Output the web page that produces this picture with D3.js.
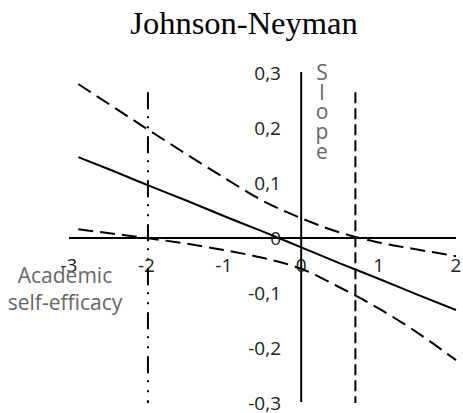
<!DOCTYPE html>
<html><head><meta charset="utf-8">
<script src="https://cdn.jsdelivr.net/npm/d3@7"></script>
<style>body{margin:0;background:#fff}svg{display:block}</style>
</head><body>
<script>
// Data
const moderator = [-2.88, -2.5, -2, -1.5, -1, -0.5, 0, 0.5, 1, 1.5, 2];
const slope     = [0.147, 0.126, 0.097, 0.069, 0.040, 0.012, -0.017, -0.046, -0.074, -0.103, -0.131];
const upperCI   = [0.280, 0.245, 0.199, 0.154, 0.110, 0.068, 0.036, 0.010, -0.008, -0.021, -0.033];
const lowerCI   = [0.016, 0.009, 0.000, -0.010, -0.022, -0.036, -0.056, -0.090, -0.128, -0.172, -0.222];
const jnPoints  = [-1.98, 0.70];
const jnRange   = [-0.3, 0.265];
const xTicks = [-3, -2, -1, 0, 1, 2];
const yTicks = [-0.3, -0.2, -0.1, 0, 0.1, 0.2, 0.3];
const xTickLabels = ["-3", "-2", "-1", "0", "1", "2"];
const yTickLabels = ["-0,3", "-0,2", "-0,1", "0", "0,1", "0,2", "0,3"];

const W = 463, H = 413;
const svg = d3.select("body").append("svg").attr("width", W).attr("height", H);
const x = d3.scaleLinear().domain([-3, 2]).range([69, 456]);
const y = d3.scaleLinear().domain([-0.3, 0.3]).range([403, 73]);

// Title
svg.append("text").attr("x", 244).attr("y", 34).attr("text-anchor", "middle")
  .attr("font-family", "Liberation Serif, Times New Roman, serif").attr("font-size", 32.5)
  .attr("fill", "#000").text("Johnson-Neyman");

// Axes lines
svg.append("line").attr("x1", x(-3)).attr("x2", x(2)).attr("y1", y(0)).attr("y2", y(0))
  .attr("stroke", "#000").attr("stroke-width", 2);
svg.append("line").attr("x1", x(0)).attr("x2", x(0)).attr("y1", y(0.3) - 1).attr("y2", y(-0.3) - 1)
  .attr("stroke", "#000").attr("stroke-width", 2);

// Tick labels
const tf = "Open Sans, Noto Sans, sans-serif";
svg.append("g").selectAll("text").data(xTicks).join("text")
  .attr("x", d => x(d)).attr("y", 272).attr("text-anchor", "middle")
  .attr("font-family", tf).attr("font-size", 19).attr("fill", "#222")
  .text((d, i) => xTickLabels[i]);
svg.append("g").selectAll("text").data(yTicks).join("text")
  .attr("x", 281).attr("y", d => y(d)).attr("dy", "0.36em").attr("text-anchor", "end")
  .attr("font-family", tf).attr("font-size", 19).attr("fill", "#222")
  .text((d, i) => yTickLabels[i]);

// JN vertical lines
svg.append("line").attr("x1", x(jnPoints[0])).attr("x2", x(jnPoints[0]))
  .attr("y1", y(jnRange[1])).attr("y2", y(jnRange[0]))
  .attr("stroke", "#000").attr("stroke-width", 2).attr("stroke-dasharray", "17,7,2,8,2,8");
svg.append("line").attr("x1", x(jnPoints[1])).attr("x2", x(jnPoints[1]))
  .attr("y1", y(jnRange[1])).attr("y2", y(jnRange[0]))
  .attr("stroke", "#000").attr("stroke-width", 2).attr("stroke-dasharray", "11,5");

// Lines
const line = vals => d3.line().x((d, i) => x(moderator[i])).y(d => y(d)).curve(d3.curveMonotoneX)(vals);
svg.append("path").attr("d", line(upperCI)).attr("fill", "none").attr("stroke", "#000")
  .attr("stroke-width", 2).attr("stroke-dasharray", "15,7");
svg.append("path").attr("d", line(lowerCI)).attr("fill", "none").attr("stroke", "#000")
  .attr("stroke-width", 2).attr("stroke-dasharray", "15,7");
svg.append("path").attr("d", line(slope)).attr("fill", "none").attr("stroke", "#000")
  .attr("stroke-width", 2);

// Axis titles
const slopeLetters = "Slope".split("");
svg.append("g").selectAll("text").data(slopeLetters).join("text")
  .attr("x", 322).attr("y", (d, i) => 80 + i * 19.7).attr("text-anchor", "middle")
  .attr("font-family", tf).attr("font-size", 21).attr("fill", "#666").text(d => d);
const xTitle = ["Academic", "self-efficacy"];
svg.append("g").selectAll("text").data(xTitle).join("text")
  .attr("x", 65).attr("y", (d, i) => 283 + i * 27).attr("text-anchor", "middle")
  .attr("font-family", tf).attr("font-size", 21).attr("fill", "#666").text(d => d);
</script>
</body></html>
